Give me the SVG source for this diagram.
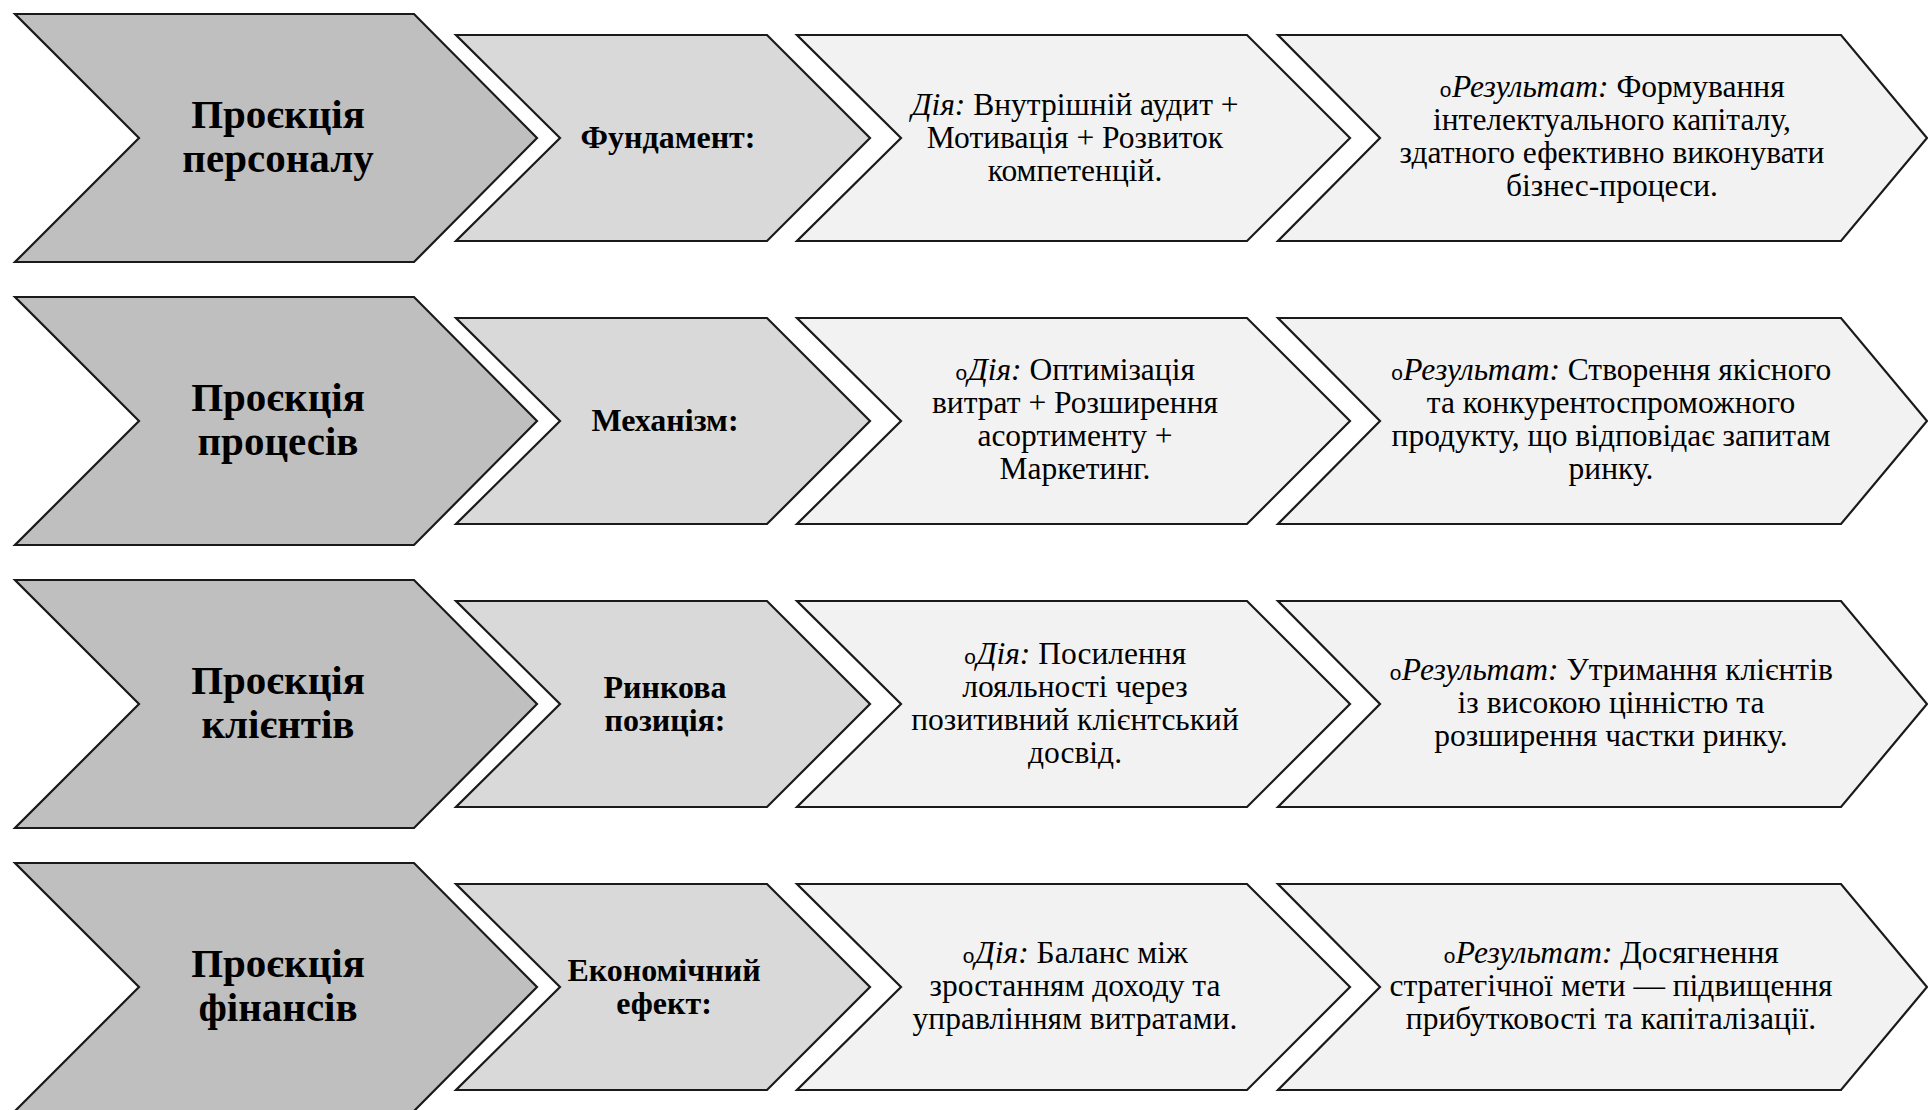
<svg xmlns="http://www.w3.org/2000/svg" width="1928" height="1110" viewBox="0 0 1928 1110">
<style>
.c1{fill:#bfbfbf;stroke:#1a1a1a;stroke-width:2.2;stroke-linejoin:miter}
.c2{fill:#d9d9d9;stroke:#1a1a1a;stroke-width:2.2}
.c3{fill:#f2f2f2;stroke:#1a1a1a;stroke-width:2.2}
text{font-family:"Liberation Serif","Times New Roman",serif;fill:#000;text-anchor:middle}
.big{font-size:41px;font-weight:bold}
.mid{font-size:32px;font-weight:bold}
.reg{font-size:31.5px}
.it{font-style:italic}
.bul{font-family:"Liberation Mono","Courier New",monospace;font-size:21px;font-style:normal}
</style>
<defs>
<polygon id="s1" points="15,-124 414,-124 537,0 414,124 15,124 139,0"/>
<polygon id="s2" points="456,-103 767,-103 870,0 767,103 456,103 560,0"/>
<polygon id="s3" points="797,-103 1247,-103 1350,0 1247,103 797,103 901,0"/>
<polygon id="s4" points="1278,-103 1841,-103 1927,0 1841,103 1278,103 1380,0"/>
</defs>
<rect width="1928" height="1110" fill="#ffffff"/>
<g id="connectors"/>

<!-- Row 1 -->
<g id="r1c1"><use href="#s1" class="c1" y="138"/>
<text class="big" x="278" y="128">Проєкція</text><text class="big" x="278" y="172">персоналу</text></g>
<g id="r1c2"><use href="#s2" class="c2" y="138"/>
<text class="mid" x="668" y="148">Фундамент:</text></g>
<g id="r1c3"><use href="#s3" class="c3" y="138"/>
<text class="reg" x="1075" y="115"><tspan class="it">Дія:</tspan> Внутрішній аудит +</text>
<text class="reg" x="1075" y="148">Мотивація + Розвиток</text>
<text class="reg" x="1075" y="181">компетенцій.</text></g>
<g id="r1c4"><use href="#s4" class="c3" y="138"/>
<text class="reg" x="1612" y="97"><tspan class="bul">o</tspan><tspan class="it">Результат:</tspan> Формування</text>
<text class="reg" x="1612" y="130">інтелектуального капіталу,</text>
<text class="reg" x="1612" y="163">здатного ефективно виконувати</text>
<text class="reg" x="1612" y="196">бізнес-процеси.</text></g>

<!-- Row 2 -->
<g id="r2c1"><use href="#s1" class="c1" y="421"/>
<text class="big" x="278" y="411">Проєкція</text><text class="big" x="278" y="455">процесів</text></g>
<g id="r2c2"><use href="#s2" class="c2" y="421"/>
<text class="mid" x="665" y="431">Механізм:</text></g>
<g id="r2c3"><use href="#s3" class="c3" y="421"/>
<text class="reg" x="1075" y="380"><tspan class="bul">o</tspan><tspan class="it">Дія:</tspan> Оптимізація</text>
<text class="reg" x="1075" y="413">витрат + Розширення</text>
<text class="reg" x="1075" y="446">асортименту +</text>
<text class="reg" x="1075" y="479">Маркетинг.</text></g>
<g id="r2c4"><use href="#s4" class="c3" y="421"/>
<text class="reg" x="1611" y="380"><tspan class="bul">o</tspan><tspan class="it">Результат:</tspan> Створення якісного</text>
<text class="reg" x="1611" y="413">та конкурентоспроможного</text>
<text class="reg" x="1611" y="446">продукту, що відповідає запитам</text>
<text class="reg" x="1611" y="479">ринку.</text></g>

<!-- Row 3 -->
<g id="r3c1"><use href="#s1" class="c1" y="704"/>
<text class="big" x="278" y="694">Проєкція</text><text class="big" x="278" y="738">клієнтів</text></g>
<g id="r3c2"><use href="#s2" class="c2" y="704"/>
<text class="mid" x="665" y="698">Ринкова</text><text class="mid" x="665" y="731">позиція:</text></g>
<g id="r3c3"><use href="#s3" class="c3" y="704"/>
<text class="reg" x="1075" y="664"><tspan class="bul">o</tspan><tspan class="it">Дія:</tspan> Посилення</text>
<text class="reg" x="1075" y="697">лояльності через</text>
<text class="reg" x="1075" y="730">позитивний клієнтський</text>
<text class="reg" x="1075" y="763">досвід.</text></g>
<g id="r3c4"><use href="#s4" class="c3" y="704"/>
<text class="reg" x="1611" y="680"><tspan class="bul">o</tspan><tspan class="it">Результат:</tspan> Утримання клієнтів</text>
<text class="reg" x="1611" y="713">із високою цінністю та</text>
<text class="reg" x="1611" y="746">розширення частки ринку.</text></g>

<!-- Row 4 -->
<g id="r4c1"><use href="#s1" class="c1" y="987"/>
<text class="big" x="278" y="977">Проєкція</text><text class="big" x="278" y="1021">фінансів</text></g>
<g id="r4c2"><use href="#s2" class="c2" y="987"/>
<text class="mid" x="664" y="981">Економічний</text><text class="mid" x="664" y="1014">ефект:</text></g>
<g id="r4c3"><use href="#s3" class="c3" y="987"/>
<text class="reg" x="1075" y="963"><tspan class="bul">o</tspan><tspan class="it">Дія:</tspan> Баланс між</text>
<text class="reg" x="1075" y="996">зростанням доходу та</text>
<text class="reg" x="1075" y="1029">управлінням витратами.</text></g>
<g id="r4c4"><use href="#s4" class="c3" y="987"/>
<text class="reg" x="1611" y="963"><tspan class="bul">o</tspan><tspan class="it">Результат:</tspan> Досягнення</text>
<text class="reg" x="1611" y="996">стратегічної мети — підвищення</text>
<text class="reg" x="1611" y="1029">прибутковості та капіталізації.</text></g>
</svg>
